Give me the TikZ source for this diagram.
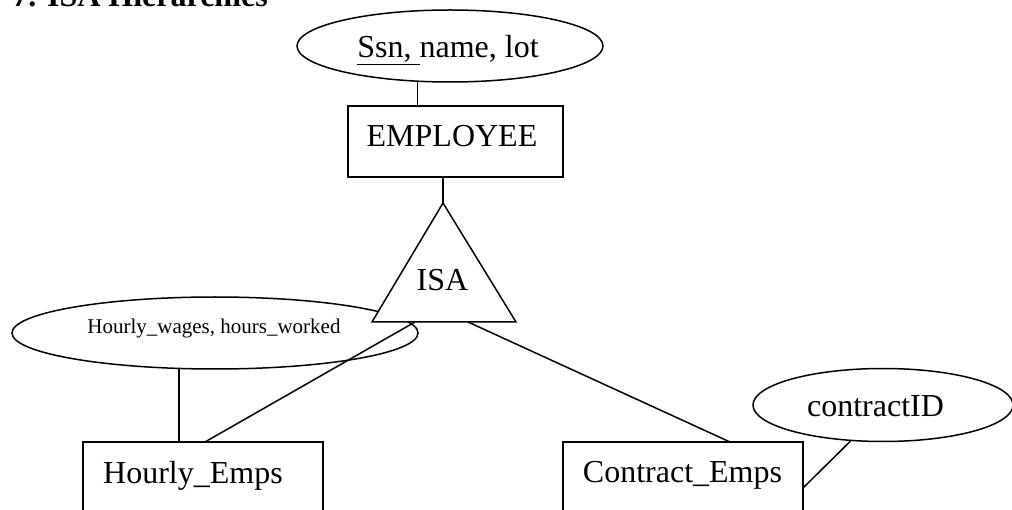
\documentclass[tikz,border=0pt]{standalone}
\usepackage{fontspec}
\setmainfont{Liberation Serif}
\usetikzlibrary{shapes.geometric}

\tikzset{
  er/.style={line width=1.5pt},
  attr/.style={er, draw, ellipse, inner sep=0pt},
  entity/.style={er, draw, rectangle, inner sep=0pt},
  lbl/.style={anchor=base, inner sep=0pt, font=\fontsize{32}{38}\selectfont},
  small/.style={anchor=base, inner sep=0pt, font=\fontsize{21}{25}\selectfont},
}

\begin{document}
\begin{tikzpicture}[x=1pt, y=-1pt]
  \clip (0,0) rectangle (1012,510);
  \fill[white] (0,0) rectangle (1012,510);

  % heading (partly above the page edge)
  \node[anchor=base east, inner sep=0pt, font=\bfseries\fontsize{32}{38}\selectfont] (title) at (268,7) {7. ISA Hierarchies};

  % attributes
  \node[attr, minimum width=306pt, minimum height=72pt] (empattr) at (450,46) {};
  \node[lbl] (empattrtxt) at (448,58) {\underline{Ssn,\ }name, lot};

  \node[attr, minimum width=406pt, minimum height=72pt] (hwattr) at (215,333) {};
  \node[small] (hwattrtxt) at (214,334) {Hourly\_wages, hours\_worked};

  \node[attr, minimum width=260pt, minimum height=73pt] (cidattr) at (883,405) {};
  \node[lbl] (cidattrtxt) at (875.5,417) {contractID};

  % entities
  \node[entity, minimum width=215pt, minimum height=71pt] (emp) at (455.5,141.5) {};
  \node[lbl] (emptxt) at (452,147) {EMPLOYEE};

  \node[entity, minimum width=240pt, minimum height=100pt] (hourly) at (203,492) {};
  \node[lbl] (hourlytxt) at (193,483) {Hourly\_Emps};

  \node[entity, minimum width=240pt, minimum height=100pt] (contract) at (683,492) {};
  \node[lbl] (contracttxt) at (682.5,482) {Contract\_Emps};

  % ISA triangle corners and connector ends
  \coordinate (isatop) at (443,203);
  \coordinate (isaleft) at (372,322);
  \coordinate (isaright) at (516,322);
  \coordinate (isaoutl) at (415,322);
  \coordinate (isaoutr) at (468,322);
  \coordinate (hourlyin) at (205,442);
  \coordinate (contractin) at (730,442);
  \coordinate (contractside) at (803,488);

  % connectors
  \draw[er] (empattr.228.7) -- (empattr.228.7 |- emp.north);
  \draw[er] (isatop |- emp.south) -- (isatop);
  \draw[er] (hwattr.225.4) -- (hwattr.225.4 |- hourly.north);
  \draw[er] (isaoutl) -- (hourlyin);
  \draw[er] (isaoutr) -- (contractin);
  \draw[er] (cidattr.228.8) -- (contractside);

  % ISA triangle, drawn over the attribute ellipse
  \draw[er, fill=white, line join=miter] (isatop) -- (isaright) -- (isaleft) -- cycle;
  \node[lbl] (isatxt) at (442.5,291) {ISA};
\end{tikzpicture}
\end{document}
